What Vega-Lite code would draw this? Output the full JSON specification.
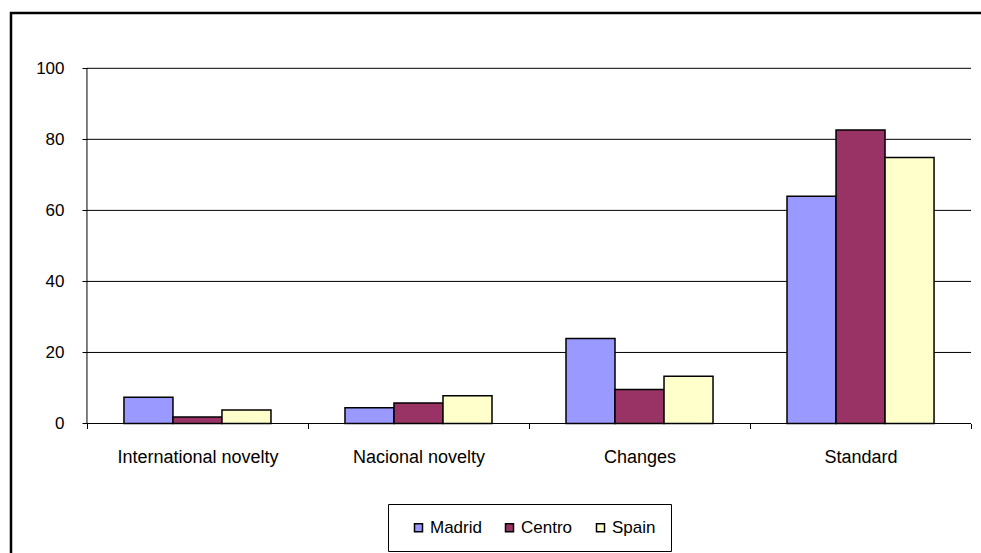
{
  "$schema": "https://vega.github.io/schema/vega-lite/v6.json",
  "width": 1036,
  "height": 560,
  "autosize": {"type": "none"},
  "padding": {"left": 11, "top": 13, "right": 0, "bottom": 0},
  "background": "white",
  "config": {
    "font": "Liberation Sans",
    "view": {"stroke": "black", "strokeWidth": 2.5}
  },
  "datasets": {
    "bars": [
      {"category": "International novelty", "series": "Madrid", "value": 7.4},
      {"category": "International novelty", "series": "Centro", "value": 1.8},
      {"category": "International novelty", "series": "Spain", "value": 3.8},
      {"category": "Nacional novelty", "series": "Madrid", "value": 4.4},
      {"category": "Nacional novelty", "series": "Centro", "value": 5.8},
      {"category": "Nacional novelty", "series": "Spain", "value": 7.8},
      {"category": "Changes", "series": "Madrid", "value": 23.9},
      {"category": "Changes", "series": "Centro", "value": 9.6},
      {"category": "Changes", "series": "Spain", "value": 13.3},
      {"category": "Standard", "series": "Madrid", "value": 64.0},
      {"category": "Standard", "series": "Centro", "value": 82.6},
      {"category": "Standard", "series": "Spain", "value": 74.9}
    ],
    "grid": [
      {"value": 0}, {"value": 20}, {"value": 40}, {"value": 60}, {"value": 80}, {"value": 100}
    ],
    "yline": [{"value": 0, "value2": 100}]
  },
  "layer": [
    {
      "data": {"name": "grid"},
      "mark": {"type": "rule", "color": "black", "strokeWidth": 1},
      "encoding": {
        "x": {"datum": 0, "type": "quantitative", "scale": {"domain": [-0.3437, 4.3437], "nice": false, "zero": false}, "axis": null},
        "x2": {"datum": 4},
        "y": {
          "field": "value", "type": "quantitative",
          "scale": {"domain": [-42.09, 115.57], "nice": false, "zero": false},
          "axis": {"values": [0, 20, 40, 60, 80, 100], "offset": -76, "domain": false, "grid": false, "ticks": true, "tickSize": 5, "tickColor": "black", "tickWidth": 1, "labelPadding": 18, "labelFontSize": 17, "labelColor": "black", "title": null}
        }
      }
    },
    {
      "data": {"name": "yline"},
      "mark": {"type": "rule", "color": "black", "strokeWidth": 1},
      "encoding": {
        "x": {"datum": 0, "type": "quantitative", "scale": {"domain": [-0.3437, 4.3437], "nice": false, "zero": false}, "axis": null},
        "y": {
          "field": "value", "type": "quantitative",
          "scale": {"domain": [-42.09, 115.57], "nice": false, "zero": false},
          "axis": {"values": [0, 20, 40, 60, 80, 100], "offset": -76, "domain": false, "grid": false, "ticks": true, "tickSize": 5, "tickColor": "black", "tickWidth": 1, "labelPadding": 18, "labelFontSize": 17, "labelColor": "black", "title": null}
        },
        "y2": {"field": "value2"}
      }
    },
    {
      "data": {"name": "bars"},
      "mark": {"type": "bar", "stroke": "black", "strokeWidth": 1.5},
      "encoding": {
        "x": {
          "field": "category", "type": "nominal",
          "sort": ["International novelty", "Nacional novelty", "Changes", "Standard"],
          "scale": {"paddingInner": 0, "paddingOuter": 0.3437},
          "axis": {"orient": "bottom", "offset": -149.5, "domain": false, "ticks": true, "tickBand": "extent", "tickSize": 5, "tickColor": "black", "tickWidth": 1, "labelPadding": 20, "labelFontSize": 18, "labelAngle": 0, "labelColor": "black", "labelLimit": 0, "title": null}
        },
        "xOffset": {
          "field": "series", "type": "nominal",
          "sort": ["Madrid", "Centro", "Spain"],
          "scale": {"paddingInner": 0, "paddingOuter": 0.755}
        },
        "y": {
          "field": "value", "type": "quantitative",
          "scale": {"domain": [-42.09, 115.57], "nice": false, "zero": false},
          "axis": {"values": [0, 20, 40, 60, 80, 100], "offset": -76, "domain": false, "grid": false, "ticks": true, "tickSize": 5, "tickColor": "black", "tickWidth": 1, "labelPadding": 18, "labelFontSize": 17, "labelColor": "black", "title": null}
        },
        "color": {
          "field": "series", "type": "nominal",
          "sort": ["Madrid", "Centro", "Spain"],
          "scale": {"domain": ["Madrid", "Centro", "Spain"], "range": ["#9999FF", "#993366", "#FFFFCC"]},
          "legend": {
            "orient": "none", "legendX": 377, "legendY": 491, "direction": "horizontal",
            "title": null, "strokeColor": "black", "padding": 15,
            "symbolType": "square", "symbolSize": 64, "symbolStrokeColor": "black", "symbolStrokeWidth": 1.5,
            "symbolOffset": 7, "labelFontSize": 17, "labelColor": "black", "labelOffset": 3, "columnPadding": 12
          }
        }
      }
    }
  ],
  "resolve": {"scale": {"x": "independent"}, "axis": {"x": "independent"}}
}
